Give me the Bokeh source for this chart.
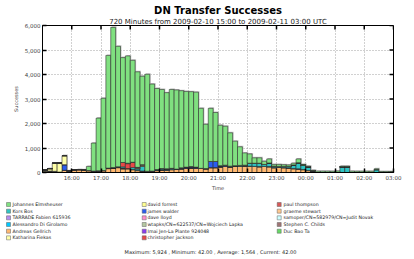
import numpy as np
from bokeh.plotting import figure
from bokeh.models import ColumnDataSource, Range1d, FixedTicker, NumeralTickFormatter, Title
from bokeh.layouts import column
from bokeh.embed import file_html
from bokeh.resources import INLINE
from bokeh.core.properties import value

# ---------------- data ----------------
title = "DN Transfer Successes"
subtitle = "720 Minutes from 2009-02-10 15:00 to 2009-02-11 03:00 UTC"
footer = "Maximum: 5,924 , Minimum: 42.00 , Average: 1,564 , Current: 42.00"
x_label = "Time"
y_label = "Successes"

bin_width = 10                                  # minutes per bin
bin_start = list(range(0, 720, bin_width))      # minutes after 2009-02-10 15:00

tick_minutes = [60, 120, 180, 240, 300, 360, 420, 480, 540, 600, 660, 720]
tick_labels = ["16:00", "17:00", "18:00", "19:00", "20:00", "21:00",
               "22:00", "23:00", "00:00", "01:00", "02:00", "03:00"]
y_ticks = [0, 1000, 2000, 3000, 4000, 5000, 6000]

johannes_elmsheuser = [
    0, 0, 0, 0, 0, 0, 0, 0, 0, 170, 1140, 2150,
    2950, 4600, 5724, 4920, 4280, 4380, 4160, 3900, 3610, 3960, 3550, 3310,
    3230, 3110, 3220, 3230, 3150, 3090, 3060, 3060, 2450, 1810, 2170, 2000,
    1650, 1590, 1360, 1000, 760, 500, 380, 220, 220, 130, 165, 70,
    80, 70, 60, 70, 155, 30, 30, 20, 55, 55, 55, 50,
    60, 30, 30, 55, 50, 50, 50, 50, 30, 42, 42, 42]
andreas_gellrich = [
    40, 60, 30, 20, 90, 70, 90, 120, 110, 80, 60, 70,
    80, 160, 180, 200, 150, 160, 120, 80, 60, 50, 60, 80,
    100, 90, 120, 140, 150, 170, 180, 170, 170, 160, 200, 200,
    230, 250, 230, 250, 260, 270, 260, 250, 240, 250, 240, 200,
    210, 200, 190, 160, 150, 120, 80, 30, 0, 0, 0, 0,
    0, 0, 0, 0, 0, 0, 0, 0, 0, 0, 0, 0]
katharina_fiekas = [
    60, 100, 330, 370, 370, 0, 0, 0, 0, 0, 0, 0,
    0, 0, 0, 0, 0, 0, 0, 40, 60, 0, 0, 0,
    0, 0, 0, 0, 0, 0, 0, 0, 0, 0, 0, 0,
    0, 0, 0, 0, 0, 0, 0, 0, 0, 0, 0, 0,
    0, 0, 0, 0, 0, 0, 0, 0, 0, 0, 0, 0,
    0, 0, 0, 0, 0, 0, 0, 0, 0, 0, 0, 0]
james_walder = [
    0, 0, 0, 0, 230, 0, 0, 0, 0, 0, 0, 0,
    0, 0, 0, 0, 0, 0, 0, 0, 0, 0, 0, 0,
    0, 0, 0, 0, 40, 50, 60, 50, 0, 0, 250, 250,
    30, 30, 0, 0, 0, 0, 0, 0, 0, 0, 0, 0,
    0, 0, 0, 0, 0, 0, 0, 0, 0, 0, 0, 0,
    0, 0, 0, 0, 0, 0, 0, 0, 0, 0, 0, 0]
kors_bos = [
    0, 0, 0, 0, 0, 0, 0, 0, 0, 0, 0, 0,
    0, 0, 0, 0, 50, 0, 80, 60, 200, 0, 0, 40,
    60, 60, 50, 0, 0, 0, 0, 0, 0, 0, 0, 0,
    20, 20, 30, 30, 30, 30, 120, 130, 140, 80, 150, 60,
    40, 50, 60, 150, 250, 180, 150, 40, 0, 0, 0, 0,
    0, 230, 230, 0, 0, 0, 0, 0, 120, 0, 0, 0]
christopher_jackson = [
    0, 0, 0, 0, 0, 0, 0, 0, 0, 0, 0, 0,
    0, 0, 0, 0, 180, 200, 220, 30, 0, 0, 0, 0,
    0, 0, 0, 0, 0, 0, 0, 0, 0, 0, 0, 0,
    0, 0, 0, 0, 0, 0, 0, 0, 0, 0, 0, 0,
    0, 0, 0, 0, 0, 0, 0, 0, 0, 0, 0, 0,
    0, 0, 0, 0, 0, 0, 0, 0, 0, 0, 0, 0]
paul_thompson = [
    0, 0, 0, 0, 0, 0, 0, 0, 0, 0, 0, 0,
    0, 0, 0, 0, 0, 20, 0, 0, 0, 0, 0, 0,
    0, 0, 0, 0, 0, 0, 0, 0, 0, 0, 0, 0,
    0, 0, 0, 0, 0, 0, 0, 0, 0, 0, 0, 0,
    0, 0, 0, 0, 0, 0, 0, 0, 0, 0, 0, 0,
    0, 0, 0, 0, 0, 0, 0, 0, 0, 0, 0, 0]
tarrade_fabien = [
    0, 0, 20, 0, 0, 0, 0, 0, 0, 0, 0, 0,
    0, 0, 0, 0, 0, 0, 0, 0, 0, 0, 0, 0,
    0, 0, 0, 0, 0, 0, 0, 0, 0, 0, 0, 0,
    0, 0, 0, 0, 0, 0, 0, 0, 0, 0, 0, 0,
    0, 0, 0, 0, 0, 0, 0, 0, 0, 0, 0, 0,
    0, 0, 0, 0, 0, 0, 0, 0, 0, 0, 0, 0]
stephen_childs = [
    0, 0, 0, 0, 0, 0, 0, 0, 0, 0, 0, 0,
    0, 20, 20, 30, 30, 0, 0, 0, 0, 0, 0, 0,
    0, 0, 0, 0, 0, 0, 0, 0, 0, 0, 0, 0,
    0, 0, 0, 0, 0, 0, 0, 0, 0, 0, 0, 0,
    0, 0, 0, 0, 0, 0, 0, 0, 0, 0, 0, 0,
    0, 0, 0, 0, 0, 0, 0, 0, 0, 0, 0, 0]
alessandro_di_girolamo = [0] * 72
david_forrest = [0] * 72
dave_lloyd = [0] * 72
wtapks_lapka = [0] * 72
imai_jen_la_plante = [0] * 72
graeme_stewart = [0] * 72
samoper_novak = [0] * 72
duc_bao_ta = [0] * 72

# legend (three columns, as in the picture)
legend_cols = [
    [("Johannes Elmsheuser", "#80e080", johannes_elmsheuser),
     ("Kors Bos", "#2ec4c4", kors_bos),
     ("TARRADE Fabien 615936", "#b48cf0", tarrade_fabien),
     ("Alessandro Di Girolamo", "#00c8ff", alessandro_di_girolamo),
     ("Andreas Gellrich", "#ffb870", andreas_gellrich),
     ("Katharina Fiekas", "#ffffa8", katharina_fiekas)],
    [("david forrest", "#ffff90", david_forrest),
     ("james walder", "#2a5cf0", james_walder),
     ("dave lloyd", "#ff8ccc", dave_lloyd),
     ("wtapks/CN=622537/CN=Wojciech Lapka", "#b4c8a0", wtapks_lapka),
     ("Imai Jen-La Plante 924048", "#8a3cf0", imai_jen_la_plante),
     ("christopher jackson", "#e84848", christopher_jackson)],
    [("paul thompson", "#d85858", paul_thompson),
     ("graeme stewart", "#ffc890", graeme_stewart),
     ("samoper/CN=582979/CN=Judit Novak", "#ccffff", samoper_novak),
     ("Stephen C. Childs", "#a07474", stephen_childs),
     ("Duc Bao Ta", "#66d866", duc_bao_ta)],
]

# stacking order, bottom to top
stack_order = ["Andreas Gellrich", "graeme stewart", "Stephen C. Childs",
               "TARRADE Fabien 615936", "Alessandro Di Girolamo", "james walder",
               "Kors Bos", "christopher jackson", "paul thompson", "Katharina Fiekas",
               "david forrest", "dave lloyd", "wtapks/CN=622537/CN=Wojciech Lapka",
               "Imai Jen-La Plante 924048", "samoper/CN=582979/CN=Judit Novak",
               "Duc Bao Ta", "Johannes Elmsheuser"]

# ---------------- build ----------------
FONT = "DejaVu Sans"
W = 414
CH_H, LEG_H = 193, 66
FL, FR, FT, FB = 42, 21, 25, 20
FW, FH = W - FL - FR, CH_H - FT - FB        # frame 351 x 148

info = {name: (col, vals) for c in legend_cols for (name, col, vals) in c}
x_centers = [m + bin_width / 2 for m in bin_start]
data = {"x": x_centers}
keys, colors = [], []
for i, name in enumerate(stack_order):
    k = "u%d" % i
    data[k] = info[name][1]
    keys.append(k)
    colors.append(info[name][0])
src = ColumnDataSource(data)
totals = np.sum([np.array(info[n][1]) for n in stack_order], axis=0)

# chart (with its two title lines above the frame)
p = figure(width=W, height=CH_H, x_range=Range1d(0, 720), y_range=Range1d(0, 6000),
           output_backend="svg", toolbar_location=None,
           min_border_left=FL, min_border_right=FR, min_border_top=FT, min_border_bottom=FB)
p.frame_align = False
p.outline_line_color = "black"
p.outline_line_width = 1
p.add_layout(Title(text=subtitle, align="center", text_font=FONT, text_font_size="7px",
                   text_font_style="normal", text_color="#222222", standoff=0), "above")
p.add_layout(Title(text=title, align="center", text_font=FONT, text_font_size="10px",
                   text_font_style="bold", text_color="black", standoff=0), "above")

px_x = 720 / FW
px_y = 6000 / FH

# bar shadow (one pixel up and right of each stack)
p.vbar(x=[c + px_x for c in x_centers], top=list(totals + px_y), bottom=0,
       width=bin_width, fill_color="#c4c4c4", line_color=None)
p.vbar_stack(keys, x="x", width=bin_width, color=colors, source=src,
             line_color="#303030", line_width=0.6)

# inward ticks on the top and right edges of the frame
p.segment(x0=tick_minutes, y0=[6000] * len(tick_minutes), x1=tick_minutes,
          y1=[6000 - 4 * px_y] * len(tick_minutes), line_color="black", line_width=1.5)
p.segment(x0=[720] * len(y_ticks), y0=y_ticks, x1=[720 - 4 * px_x] * len(y_ticks),
          y1=y_ticks, line_color="black", line_width=1.5)

p.xaxis.ticker = FixedTicker(ticks=tick_minutes)
p.xaxis.major_label_overrides = {m: l for m, l in zip(tick_minutes, tick_labels)}
p.yaxis.ticker = FixedTicker(ticks=y_ticks)
p.yaxis.formatter = NumeralTickFormatter(format="0,0")
p.xgrid.ticker = FixedTicker(ticks=tick_minutes)
p.ygrid.ticker = FixedTicker(ticks=y_ticks)
for g in (p.xgrid[0], p.ygrid[0]):
    g.grid_line_color = "#8c8c8c"
    g.grid_line_dash = "1 2"
    g.grid_line_width = 0.8

for ax in (p.xaxis[0], p.yaxis[0]):
    ax.axis_line_color = "black"
    ax.axis_line_width = 1
    ax.major_tick_in = 4
    ax.major_tick_out = 0
    ax.major_tick_line_width = 1.5
    ax.major_tick_line_color = "black"
    ax.minor_tick_line_color = None
    ax.major_label_text_font = FONT
    ax.major_label_text_font_size = "5.5px"
    ax.major_label_text_color = "#444444"
    ax.major_label_standoff = 2
    ax.axis_label_text_font = FONT
    ax.axis_label_text_font_size = "5px"
    ax.axis_label_text_font_style = "normal"
    ax.axis_label_text_color = "#444444"
p.xaxis[0].axis_label = x_label
p.xaxis[0].axis_label_standoff = 1
p.yaxis[0].axis_label = y_label
p.yaxis[0].axis_label_standoff = 3

# legend + footer (plain canvas measured in pixels)
leg = figure(width=W, height=LEG_H, x_range=Range1d(0, W), y_range=Range1d(LEG_H, 0),
             x_axis_type=None, y_axis_type=None, output_backend="svg",
             toolbar_location=None, min_border=0)
leg.outline_line_color = None
leg.grid.visible = False
leg.frame_align = False
col_sq = [6, 141.7, 276.7]
col_tx = [12, 147, 283]
sx, sy, sc, tx, tt = [], [], [], [], []
for ci, col in enumerate(legend_cols):
    for ri, (name, c, _) in enumerate(col):
        sx.append(col_sq[ci] + 2)
        sy.append(11 + ri * 6.67)
        sc.append(c)
        tx.append(col_tx[ci])
        tt.append(name)
leg.rect(x=sx, y=sy, width=4, height=4, fill_color=sc, line_color="#606060", line_width=0.5)
leg.text(x=tx, y=sy, text=tt, text_font=value(FONT), text_font_size="4.7px",
         text_baseline="middle", text_align="left", text_color="#222222")
leg.text(x=[210], y=[58], text=[footer], text_font=value(FONT), text_font_size="5px",
         text_baseline="middle", text_align="center", text_color="#222222")

layout = column(p, leg, spacing=0)
open("out.html", "w").write(file_html(layout, INLINE))
